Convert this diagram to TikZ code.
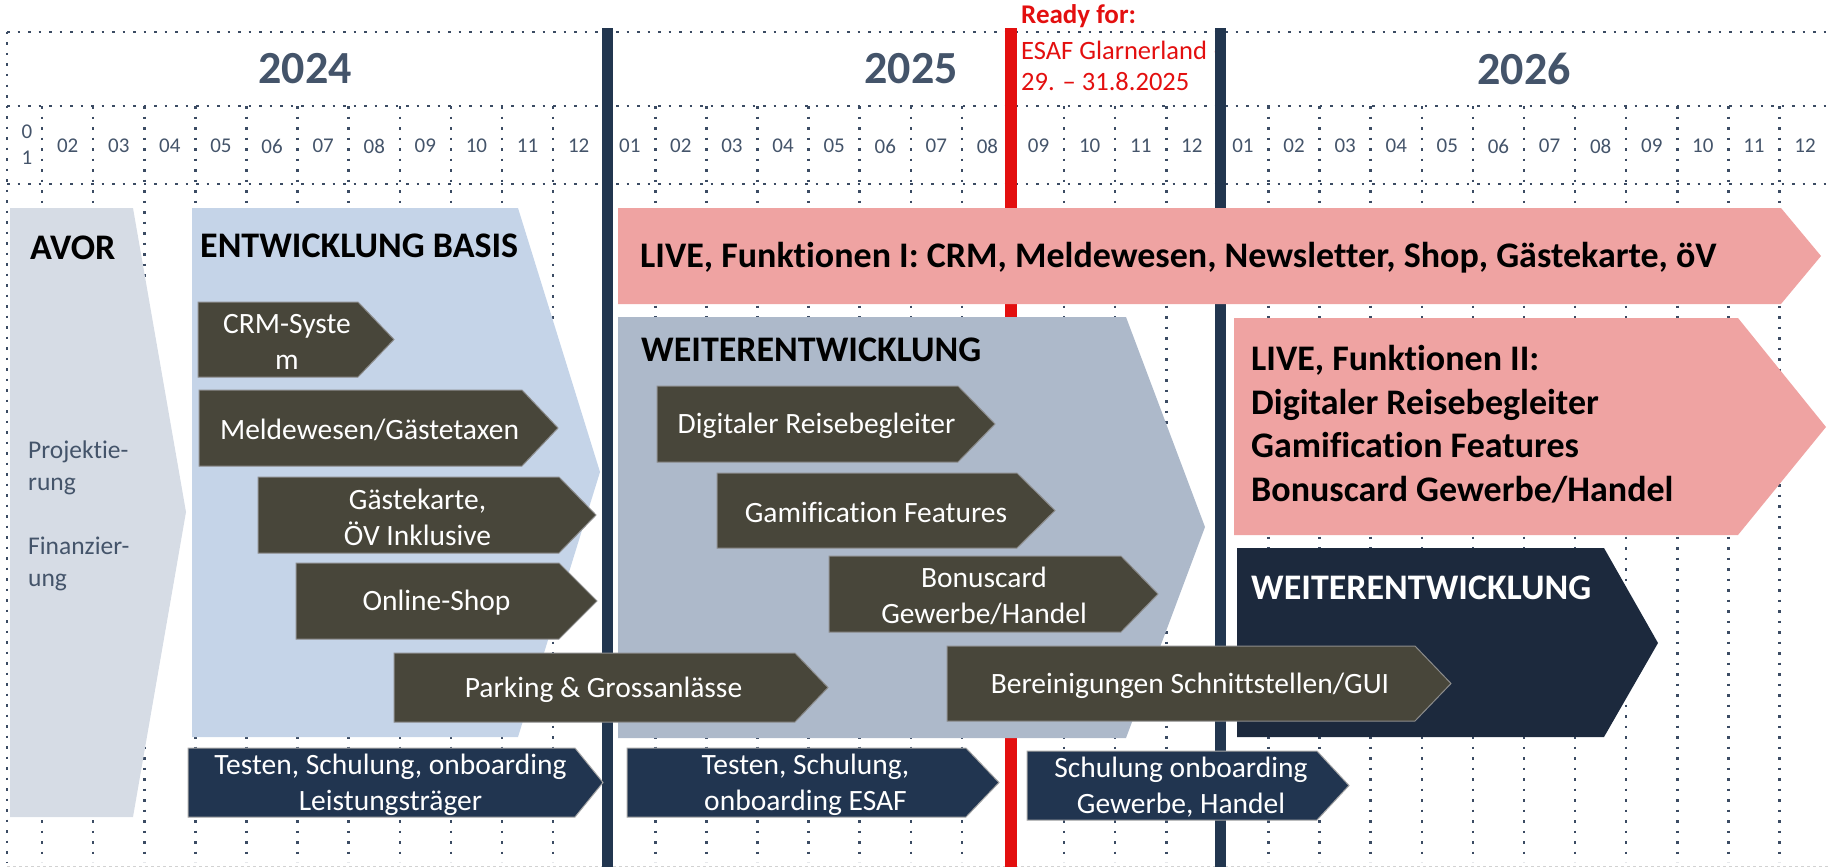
\documentclass[tikz,border=0pt]{standalone}
\usepackage{fontspec}
\setmainfont{Carlito}[Ligatures=CommonOff]
\definecolor{txtgray}{HTML}{44546A}
\definecolor{dotc}{HTML}{3B4B63}
\definecolor{navybar}{HTML}{22364F}
\definecolor{esafred}{HTML}{E30F0F}
\definecolor{avorfill}{HTML}{D6DCE5}
\definecolor{basisfill}{HTML}{C5D4E8}
\definecolor{weiterfill}{HTML}{ADB9CA}
\definecolor{livefill}{HTML}{EFA3A2}
\definecolor{olivefill}{HTML}{48463A}
\definecolor{deepnavy}{HTML}{1C293D}
\definecolor{botnavy}{HTML}{213550}
\tikzset{
	gridline/.style={line width=2.5pt, dash pattern=on 2.5pt off 8pt, color=dotc},
	mon/.style={font=\fontsize{21}{26}\selectfont, text=txtgray, align=center, inner sep=0pt},
	yr/.style={font=\bfseries\fontsize{46}{50}\selectfont, text=txtgray, inner sep=0pt},
	esaf/.style={anchor=west, text=esafred, font=\fontsize{26.5}{31}\selectfont, inner sep=0pt},
	head/.style={anchor=west, font=\bfseries\fontsize{36}{43.5}\selectfont, inner sep=0pt},
	sub/.style={anchor=west, align=left, text=txtgray, font=\fontsize{25.5}{32}\selectfont, inner sep=0pt},
	lbl/.style={font=\fontsize{29.5}{36}\selectfont, text=white, align=center, inner sep=0pt},
	oliv/.style={fill=olivefill, draw=black!45, line width=1pt},
	navyarrow/.style={fill=botnavy, draw=black!35, line width=1pt}
}
\begin{document}
\begin{tikzpicture}[x=1pt, y=-1pt]
	\useasboundingbox (0,0) rectangle (1831,867);
	\def \mw{51.1}
	\def \xo{-9}
	\def\chev#1#2#3#4#5#6#7#8{
		\draw[#2] (#3,#4) -- (#5,#4) -- (#6,{(#4+#7)/2}) -- (#5,#7) -- (#3,#7) -- cycle;
		\node[lbl] (#1) at ({(#3+#5)/2+9},{(#4+#7)/2+2}) {#8};
	}
	\foreach \y in {32,106,184}
	{ \draw[gridline] (7,\y) -- (1831,\y); }
	\draw[gridline] (7,32) -- (7,862);
	\foreach \k in {1,...,35}
	{ \draw[gridline] (\xo+\k*\mw,106) -- (\xo+\k*\mw,862); }
	\draw[gray!35, line width=1pt, dashed] (7,866) -- (1831,866);
	\node[mon] (m0) at (27,145) {0\\1};
	\foreach \k in {1,...,35}
	{
		\pgfmathparse{int(mod(\k,12)+1)}
		\let\mo\pgfmathresult
		\node[mon] (m\k) at ({\xo+(\k+0.5)*\mw}, 146) {\ifnum\mo<10 0\fi\mo};
	}
	\node[yr] (y24) at (305,69) {2024};
	\node[yr] (y25) at (911,69) {2025};
	\node[yr] (y26) at (1524,69) {2026};
	\node[esaf, font=\bfseries\fontsize{27}{31}\selectfont] (ready) at (1021,16) {Ready for:};
	\node[esaf] (esafgl) at (1021,50) {ESAF Glarnerland –};
	\node[esaf] (datum) at (1021,82) {29. – 31.8.2025};
	\fill[navybar] (602,28) rectangle (613,867);
	\fill[esafred] (1005,28) rectangle (1017,867);
	\fill[navybar] (1215,28) rectangle (1226,867);
	\fill[avorfill] (10,208) -- (133,208) -- (186,512) -- (133,817) -- (10,817) -- cycle;
	\fill[basisfill] (192,208) -- (518,208) -- (600,472) -- (518,737) -- (192,737) -- cycle;
	\fill[livefill] (618,208) -- (1781,208) -- (1821,256) -- (1781,304) -- (618,304) -- cycle;
	\fill[weiterfill] (618,317) -- (1126,317) -- (1205,527) -- (1126,738) -- (618,738) -- cycle;
	\fill[livefill] (1234,318) -- (1738,318) -- (1826,427) -- (1738,535) -- (1234,535) -- cycle;
	\fill[deepnavy] (1237,548) -- (1604,548) -- (1658,643) -- (1604,737) -- (1237,737) -- cycle;
	\node[head] (avor) at (30,248) {AVOR};
	\node[sub] (proj) at (28,468) {Projektie-\\rung};
	\node[sub] (finanz) at (28,564) {Finanzier-\\ung};
	\node[head] (basis) at (200,246) {ENTWICKLUNG BASIS};
	\node[head] (live1) at (640,258) {LIVE, Funktionen I: CRM, Meldewesen, Newsletter, Shop, Gästekarte, öV};
	\node[head] (weiter1) at (641,350) {WEITERENTWICKLUNG};
	\node[head, align=left] (live2) at (1251,424) {LIVE, Funktionen II:\\Digitaler Reisebegleiter\\Gamification Features\\Bonuscard Gewerbe/Handel};
	\node[head, text=white] (weiter2) at (1251,588) {WEITERENTWICKLUNG};
	\chev{crm}{oliv}{198}{302}{358}{394}{377}{CRM-Syste\\m}
	\chev{melde}{oliv}{199}{390}{522}{558}{466}{Meldewesen/Gästetaxen}
	\chev{karte}{oliv}{258}{477}{559}{596}{553}{Gästekarte,\\ÖV Inklusive}
	\chev{shop}{oliv}{296}{563}{559}{597}{639}{Online-Shop}
	\chev{parking}{oliv}{394}{653}{795}{828}{722}{Parking \& Grossanlässe}
	\chev{reise}{oliv}{657}{386}{958}{995}{462}{Digitaler Reisebegleiter}
	\chev{gami}{oliv}{717}{473}{1017}{1055}{548}{Gamification Features}
	\chev{bonus}{oliv}{829}{556}{1121}{1158}{632}{Bonuscard\\Gewerbe/Handel}
	\chev{gui}{oliv}{947}{646}{1415}{1451}{721}{Bereinigungen Schnittstellen/GUI}
	\chev{leist}{navyarrow}{188}{748}{575}{603}{817}{Testen, Schulung, onboarding\\Leistungsträger}
	\chev{onesaf}{navyarrow}{627}{748}{966}{999}{817}{Testen, Schulung,\\onboarding ESAF}
	\chev{gewerbe}{navyarrow}{1027}{751}{1317}{1349}{820}{Schulung onboarding\\Gewerbe, Handel}
\end{tikzpicture}
\end{document}
